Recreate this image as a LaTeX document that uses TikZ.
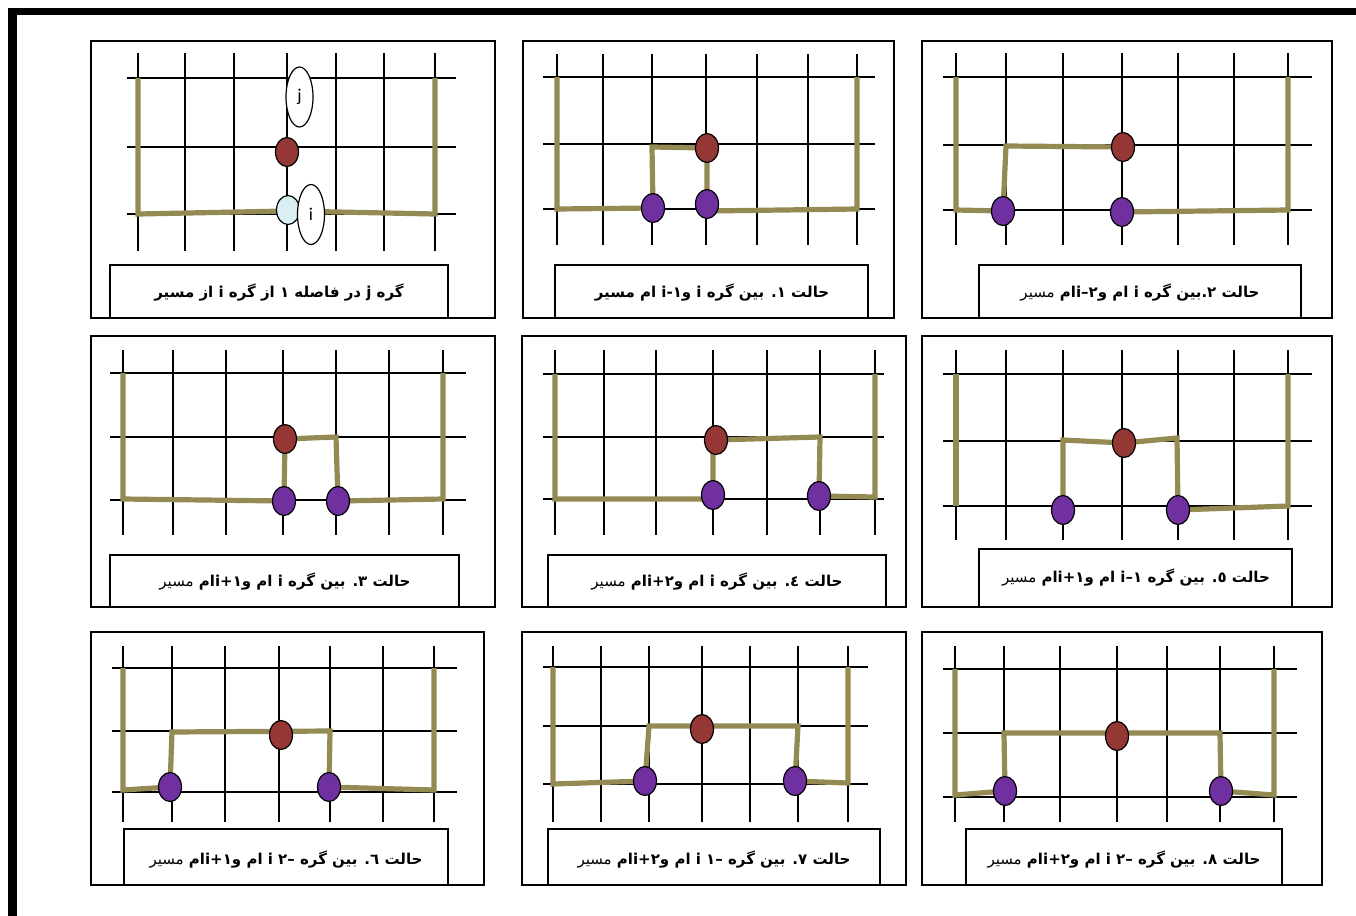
\documentclass[tikz,border=0pt]{standalone}
\usepackage{fontspec}
\usetikzlibrary{shapes.geometric}
\TeXXeTstate=1
\newfontfamily\fa[Script=Arabic]{DejaVu Sans}
\newfontfamily\latf{Carlito}
\definecolor{pathol}{HTML}{948A54}
\definecolor{nodered}{HTML}{953735}
\definecolor{nodepur}{HTML}{7030A0}
\definecolor{nodeblue}{HTML}{DBEEF4}
\tikzset{
 gridl/.style={line width=0.6pt,black},
 route/.style={line width=2.6pt,pathol,line join=miter},
 panel/.style={line width=1pt,black},
 capbox/.style={line width=1pt,black,fill=white},
 captext/.style={font=\fa\fontsize{7.5}{9}\selectfont\bfseries,inner sep=0},
 vred/.style={ellipse,draw=black,line width=0.6pt,fill=nodered,minimum width=11.5pt,minimum height=14.5pt,inner sep=0},
 vpur/.style={vred,fill=nodepur},
 vblue/.style={vred,fill=nodeblue},
 lab/.style={ellipse,draw=black,line width=0.6pt,fill=white,minimum width=13.5pt,minimum height=30pt,inner sep=0,font=\latf\fontsize{9}{10}\selectfont},
}
\newcommand\gridlines[6]{%
 \foreach \gx in {#1} \draw[gridl] (\gx,#2) -- (\gx,#3);
 \foreach \gy in {#4} \draw[gridl] (#5,\gy) -- (#6,\gy);}
\newcommand\reg[1]{{\mdseries #1}}
\begin{document}
\begin{tikzpicture}[x=0.5pt,y=-0.5pt]
\useasboundingbox (0,0) rectangle (1356,916);
\fill[white] (0,0) rectangle (1356,916);
% outer frame
\fill[black] (8,8) rectangle (1356,15);
\fill[black] (8,8) rectangle (17,916);

% ================= Panel 1
\draw[panel] (91,41) rectangle (495,318);
\gridlines{138,185,234,287,336,384,435}{53}{251}{78,147,214}{127}{456}
\coordinate (a1) at (138,78); \coordinate (b1) at (138,214);
\coordinate (B1) at (288,211); \coordinate (c1) at (435,214); \coordinate (d1) at (435,78);
\draw[route] (a1) -- (b1) -- (B1) -- (c1) -- (d1);
\node[vred] (r1) at (287,152) {};
\node[vblue] (q1) at (288,210) {};
\node[lab] (lj) at (299.5,97) {j};
\node[lab] (li) at (311,214.5) {i};
\draw[capbox] (110,265) rectangle (448,318);
\node[captext] (t1) at (279,293) {\beginR گره j در فاصله ۱ از گره i از مسیر\endR};

% ================= Panel 2
\draw[panel] (523,41) rectangle (894,318);
\gridlines{557,603,652,706,757,808,857}{54}{245}{77,144,209}{543}{875}
\coordinate (a2) at (557,77); \coordinate (b2) at (557,209);
\coordinate (P2) at (653,208); \coordinate (c2) at (652,147);
\coordinate (R2) at (707,148); \coordinate (Q2) at (707,204);
\coordinate (e2) at (707,211); \coordinate (f2) at (857,209); \coordinate (g2) at (857,77);
\draw[route] (a2) -- (b2) -- (P2) -- (c2) -- (R2) -- (Q2);
\draw[route] (e2) -- (f2) -- (g2);
\node[vred] (r2) at (R2) {};
\node[vpur] (pa2) at (P2) {};
\node[vpur] (pb2) at (Q2) {};
\draw[capbox] (555,265) rectangle (868,318);
\node[captext] (t2) at (712,293) {\beginR حالت ۱. بین گره i و\beginL i-۱\endL{} ام مسیر\endR};

% ================= Panel 3
\draw[panel] (922,41) rectangle (1332,318);
\gridlines{956,1006,1063,1122,1178,1234,1288}{53}{245}{77,145,210}{943}{1312}
\coordinate (a3) at (956,77); \coordinate (b3) at (956,210);
\coordinate (P3) at (1003,211); \coordinate (c3) at (1006,146);
\coordinate (R3) at (1123,147); \coordinate (Q3) at (1122,212);
\coordinate (f3) at (1288,210); \coordinate (g3) at (1288,77);
\draw[route] (a3) -- (b3) -- (P3) -- (c3) -- (R3);
\draw[route] (Q3) -- (f3) -- (g3);
\node[vred] (r3) at (R3) {};
\node[vpur] (pa3) at (P3) {};
\node[vpur] (pb3) at (Q3) {};
\draw[capbox] (979,265) rectangle (1301,318);
\node[captext] (t3) at (1140,293) {\beginR حالت ۲.بین گره i ام و\beginL i–۲\endL ام \reg{مسیر}\endR};

% ================= Panel 4
\draw[panel] (91,336) rectangle (495,607);
\gridlines{123,173,226,283,336,389,443}{350}{535}{373,437,500}{110}{466}
\coordinate (a4) at (123,373); \coordinate (b4) at (123,499);
\coordinate (P4) at (284,501); \coordinate (R4) at (285,439);
\coordinate (c4) at (336,437); \coordinate (Q4) at (338,501);
\coordinate (f4) at (443,499); \coordinate (g4) at (443,373);
\draw[route] (a4) -- (b4) -- (P4) -- (R4) -- (c4) -- (Q4) -- (f4) -- (g4);
\node[vred] (r4) at (R4) {};
\node[vpur] (pa4) at (P4) {};
\node[vpur] (pb4) at (Q4) {};
\draw[capbox] (110,555) rectangle (459,607);
\node[captext] (t4) at (285,582) {\beginR حالت ۳. بین گره i ام و\beginL i+۱\endL ام \reg{مسیر}\endR};

% ================= Panel 5
\draw[panel] (522,336) rectangle (906,607);
\gridlines{555,604,656,713,767,820,875}{350}{535}{374,437,499}{543}{884}
\coordinate (a5) at (555,374); \coordinate (b5) at (555,499);
\coordinate (P5) at (713,495); \coordinate (R5) at (716,440);
\coordinate (c5) at (820,437); \coordinate (Q5) at (819,496);
\coordinate (f5) at (875,497); \coordinate (g5) at (875,374);
\draw[route] (a5) -- (b5) -- (713,499) -- (P5) -- (713,440) -- (R5) -- (c5) -- (Q5) -- (f5) -- (g5);
\node[vred] (r5) at (R5) {};
\node[vpur] (pa5) at (P5) {};
\node[vpur] (pb5) at (Q5) {};
\draw[capbox] (548,555) rectangle (886,607);
\node[captext] (t5) at (717,582) {\beginR حالت ٤. بین گره i ام و\beginL i+۲\endL ام \reg{مسیر}\endR};

% ================= Panel 6
\draw[panel] (922,336) rectangle (1332,607);
\gridlines{956,1006,1063,1122,1178,1234,1288}{350}{540}{374,441,506}{943}{1312}
\coordinate (a6) at (956,374); \coordinate (b6) at (956,506);
\coordinate (P6) at (1063,510); \coordinate (c6) at (1063,440);
\coordinate (R6) at (1124,443); \coordinate (d6) at (1177,438);
\coordinate (Q6) at (1178,510); \coordinate (f6) at (1288,506); \coordinate (g6) at (1288,374);
\draw[route] (a6) -- (b6);
\draw[route] (P6) -- (c6) -- (R6) -- (d6) -- (Q6);
\draw[route] (Q6) -- (f6) -- (g6);
\node[vred] (r6) at (R6) {};
\node[vpur] (pa6) at (P6) {};
\node[vpur] (pb6) at (Q6) {};
\draw[capbox] (979,549) rectangle (1292,607);
\node[captext] (t6) at (1136,578) {\beginR حالت ٥. بین گره \beginL i–۱\endL{} ام و\beginL i+۱\endL ام \reg{مسیر}\endR};

% ================= Panel 7
\draw[panel] (91,632) rectangle (484,885);
\gridlines{123,172,225,279,330,383,434}{646}{822}{668,731,792}{112}{457}
\coordinate (a7) at (123,668); \coordinate (b7) at (123,790);
\coordinate (P7) at (170,787); \coordinate (c7) at (172,732);
\coordinate (R7) at (281,735); \coordinate (d7) at (330,731);
\coordinate (Q7) at (329,787); \coordinate (f7) at (434,790); \coordinate (g7) at (434,668);
\draw[route] (a7) -- (b7) -- (P7) -- (c7) -- (d7) -- (Q7) -- (f7) -- (g7);
\node[vred] (r7) at (R7) {};
\node[vpur] (pa7) at (P7) {};
\node[vpur] (pb7) at (Q7) {};
\draw[capbox] (124,829) rectangle (448,885);
\node[captext] (t7) at (286,859) {\beginR حالت ٦. بین گره \beginL i –۲\endL{} ام و\beginL i+۱\endL ام \reg{مسیر}\endR};

% ================= Panel 8
\draw[panel] (522,632) rectangle (906,885);
\gridlines{553,601,649,702,750,798,848}{646}{822}{667,726,784}{543}{868}
\coordinate (a8) at (553,667); \coordinate (b8) at (553,784);
\coordinate (P8) at (645,781); \coordinate (c8) at (649,726);
\coordinate (R8) at (702,729); \coordinate (d8) at (798,726);
\coordinate (Q8) at (795,781); \coordinate (f8) at (848,783); \coordinate (g8) at (848,667);
\draw[route] (a8) -- (b8) -- (P8) -- (c8) -- (d8) -- (Q8) -- (f8) -- (g8);
\node[vred] (r8) at (R8) {};
\node[vpur] (pa8) at (P8) {};
\node[vpur] (pb8) at (Q8) {};
\draw[capbox] (548,829) rectangle (880,885);
\node[captext] (t8) at (714,859) {\beginR حالت ۷. بین گره \beginL i –۱\endL{} ام و\beginL i+۲\endL ام \reg{مسیر}\endR};

% ================= Panel 9
\draw[panel] (922,632) rectangle (1322,885);
\gridlines{955,1004,1060,1117,1167,1220,1274}{646}{822}{669,733,797}{943}{1297}
\coordinate (a9) at (955,669); \coordinate (b9) at (955,795);
\coordinate (P9) at (1005,791); \coordinate (c9) at (1004,733);
\coordinate (R9) at (1117,736); \coordinate (d9) at (1220,733);
\coordinate (Q9) at (1221,791); \coordinate (f9) at (1274,795); \coordinate (g9) at (1274,669);
\draw[route] (a9) -- (b9) -- (P9) -- (c9) -- (d9) -- (Q9) -- (f9) -- (g9);
\node[vred] (r9) at (R9) {};
\node[vpur] (pa9) at (P9) {};
\node[vpur] (pb9) at (Q9) {};
\draw[capbox] (966,829) rectangle (1282,885);
\node[captext] (t9) at (1124,859) {\beginR حالت ۸. بین گره \beginL i –۲\endL{} ام و\beginL i+۲\endL ام \reg{مسیر}\endR};
\end{tikzpicture}
\end{document}
